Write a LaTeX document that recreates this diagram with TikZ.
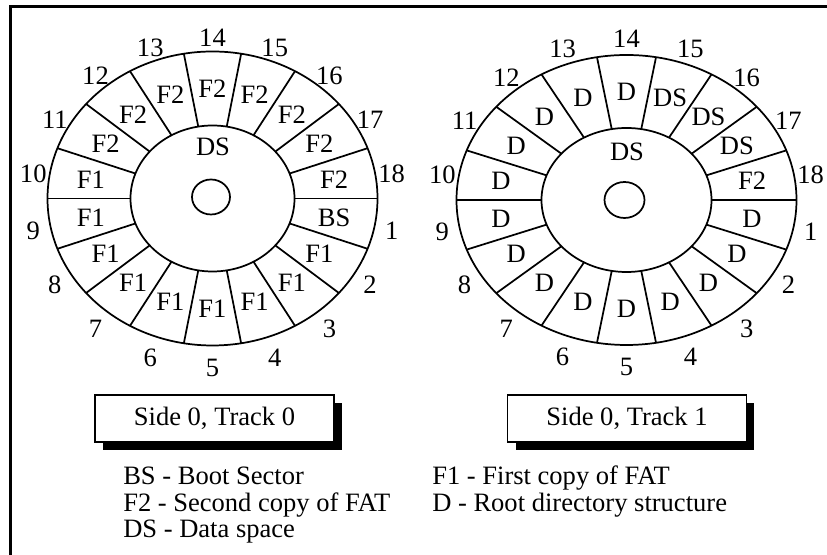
\documentclass[tikz,border=0pt]{standalone}
\usepackage{fontspec}
\setmainfont{Liberation Serif}
\usetikzlibrary{positioning}
\tikzset{
  disc/.style      = {line width=1.3pt},
  seclbl/.style    = {inner sep=0pt},
  numlbl/.style    = {inner sep=0pt},
  capbox/.style    = {draw, line width=1.2pt, fill=white, inner sep=0pt,
                      minimum width=179pt, minimum height=35pt},
  shadowbox/.style = {fill=black, inner sep=0pt,
                      minimum width=179pt, minimum height=35pt},
  legtxt/.style    = {anchor=base west, inner sep=0pt}
}

\begin{document}
\begin{tikzpicture}[x=0.75pt, y=0.75pt]
\fontsize{19.9}{23}\selectfont
\useasboundingbox (0,0) rectangle (827,555);

% ---- frame ----
\draw[line width=1.9pt] (10.5,0) -- (10.5,548.5) -- (827,548.5);

% ---- left disk: side 0, track 0 ----
\coordinate (lc) at (212.5,356.5);
\coordinate (lnc) at (212.5,352.5);
\draw[disc] (lc) ellipse [x radius=165, y radius=147];
\draw[disc] (lc) ellipse [x radius=82, y radius=73];
\draw[disc] (211,358) ellipse [x radius=19, y radius=17.5];
\foreach \t in {0,20,...,340}
  \draw[disc] ([shift={(\t:82 and 73)}]lc) -- ([shift={(\t:165 and 147)}]lc);
\foreach \lab [count=\n] in {BS,F1,F1,F1,F1,F1,F1,F1,F1,F1,F2,F2,F2,F2,F2,F2,F2,F2} {
  \pgfmathsetmacro\t{-10-20*(\n-1)}
  \node[seclbl] (ls\n) at ([shift={(\t:123.5 and 110)}]lc) {\lab};
  \node[numlbl] (ln\n) at ([shift={(\t:182 and 165)}]lnc) {\n};
}
\node (lds) at (213,408) {DS};

% ---- right disk: side 0, track 1 ----
\coordinate (rc) at (626.5,355);
\coordinate (rnc) at (626.5,352);
\draw[disc] (rc) ellipse [x radius=170, y radius=145];
\draw[disc] (rc) ellipse [x radius=85, y radius=72];
\draw[disc] (624.5,355) ellipse [x radius=20, y radius=18];
\foreach \t in {0,20,...,340}
  \draw[disc] ([shift={(\t:85 and 72)}]rc) -- ([shift={(\t:170 and 145)}]rc);
\foreach \lab [count=\n] in {D,D,D,D,D,D,D,D,D,D,D,D,D,D,DS,DS,DS,F2} {
  \pgfmathsetmacro\t{-10-20*(\n-1)}
  \node[seclbl] (rs\n) at ([shift={(\t:127.5 and 108.5)}]rc) {\lab};
  \node[numlbl] (rn\n) at ([shift={(\t:187 and 164)}]rnc) {\n};
}
\node (rds) at (627,403) {DS};

% ---- captions ----
\node[shadowbox] (lshadow) at (222.5,128.5) {};
\node[capbox] (lcap) at (214.5,136.5) {Side 0, Track 0};
\node[shadowbox] (rshadow) at (635,128.5) {};
\node[capbox] (rcap) at (627,136.5) {Side 0, Track 1};

% ---- legend ----
\node[legtxt] (lgbs) at (123,70) {BS - Boot Sector};
\node[legtxt] (lgftwo) at (123,43.5) {F2 - Second copy of FAT};
\node[legtxt] (lgds) at (123,17) {DS - Data space};
\node[legtxt] (lgfone) at (432,70) {F1 - First copy of FAT};
\node[legtxt] (lgd) at (432,43.5) {D - Root directory structure};
\end{tikzpicture}
\end{document}
